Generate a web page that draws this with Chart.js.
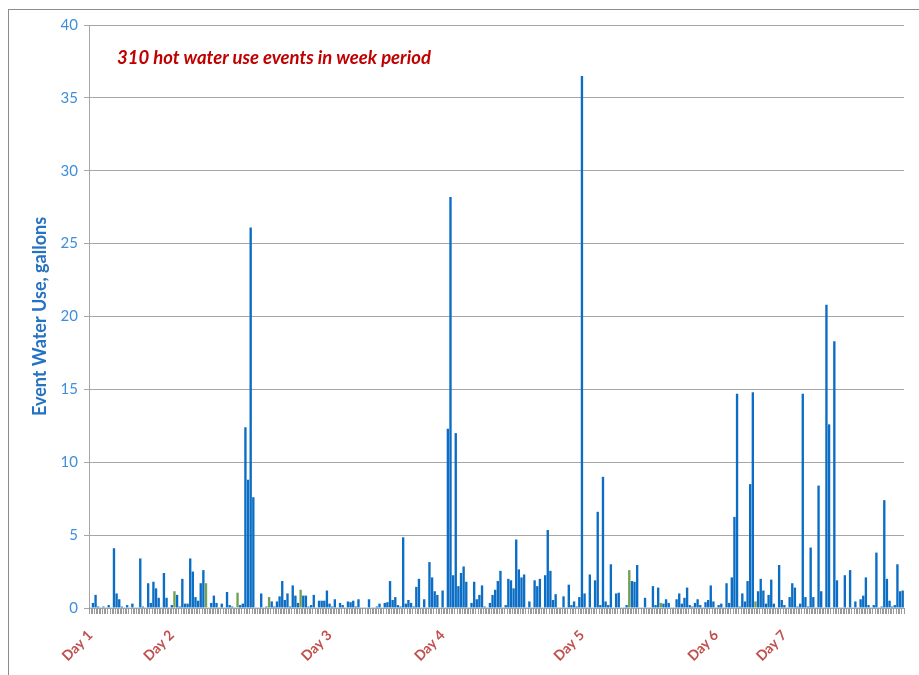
<!DOCTYPE html>
<html>
<head>
<meta charset="utf-8">
<script src="https://cdn.jsdelivr.net/npm/chart.js@4.4.1/dist/chart.umd.min.js"></script>
<style>
	body { margin: 0; background: #fff; }
	#frame { position: absolute; left: 8px; top: 9px; width: 930px; height: 690px; border-left: 1px solid #8c8c8c; border-top: 1px solid #8c8c8c; }
	#wrap { position: absolute; left: 9px; top: 10px; width: 910px; height: 665px; }
	#note { position: absolute; left: 117px; top: 46px; font: italic bold 18.5px Lato, sans-serif; color: #C00000; white-space: nowrap; }
</style>
</head>
<body>
<div id="frame"></div>
<div id="wrap"><canvas id="useChart" width="910" height="665"></canvas></div>
<div id="note">310 hot water use events in week period</div>
<script>
'use strict';

// gallons per event, in time order (310 events), split by stretch of the week
const eventsA = [0.05, 0.35, 0.9, 0.1, 0.05, 0.1, 0.05, 0.2, 0.05, 4.1, 1.0, 0.6, 0.1, 0.05, 0.2, 0.05, 0.3, 0.05, 0.05, 3.4,
	0.1, 0.05, 1.7, 0.35, 1.8, 1.35, 0.7, 0.05, 2.4, 0.7, 0.05, 0.2, 1.15, 0.9, 0.1, 2.0, 0.3, 0.3, 3.4, 2.5,
	0.75, 0.5, 1.7, 2.6, 1.7, 0.05, 0.35, 0.85, 0.35, 0.05, 0.3];
const eventsB = [0.05, 1.1, 0.2, 0.1, 0.05, 1.05, 0.2, 0.3, 12.4, 8.8, 26.1, 7.6, 0.05, 0.05, 1.0, 0.05, 0.1, 0.75, 0.45, 0.1,
	0.45, 0.8, 1.85, 0.55, 1.0, 0.1, 1.55, 0.85, 0.35, 1.25, 0.85, 0.85, 0.1, 0.2, 0.9, 0.05, 0.5, 0.5, 0.5, 1.2,
	0.3, 0.1, 0.6, 0.05, 0.35, 0.2, 0.05, 0.45, 0.4, 0.5, 0.1, 0.6];
const eventsC = [0.05, 0.05, 0.05, 0.6, 0.05, 0.05, 0.1, 0.3, 0.05, 0.35, 0.4, 1.85, 0.55, 0.75, 0.2, 0.1, 4.85, 0.3, 0.55, 0.35,
	0.1, 1.45, 2.0, 0.05, 0.6, 0.05, 3.15, 2.1, 1.15, 0.9, 0.05, 1.2, 0.05, 12.3, 28.2, 2.25, 12.0, 1.5, 2.4, 2.85,
	1.8, 0.05, 0.35, 1.8, 0.6, 0.9, 1.55, 0.1, 0.05, 0.35, 0.9];
const eventsD = [1.25, 1.85, 2.55, 0.05, 0.2, 2.0, 1.9, 1.35, 4.7, 2.65, 2.1, 2.3, 0.05, 0.45, 0.05, 1.9, 1.5, 2.0, 0.05, 2.25,
	5.35, 2.55, 0.55, 0.95, 0.05, 0.05, 0.8, 0.05, 1.6, 0.2, 0.45, 0.1, 0.75, 36.5, 1.0, 0.05, 2.3, 0.05, 1.9, 6.6,
	0.2, 9.0, 0.45, 0.2, 3.0, 0.05, 1.0, 1.05, 0.05, 0.05, 0.2, 2.6];
const eventsE = [1.85, 1.8, 2.95, 0.05, 0.05, 0.7, 0.05, 0.05, 1.5, 0.2, 1.4, 0.35, 0.3, 0.6, 0.35, 0.05, 0.05, 0.6, 1.0, 0.3,
	0.7, 1.4, 0.2, 0.1, 0.35, 0.6, 0.2, 0.05, 0.4, 0.55, 1.55, 0.45, 0.05, 0.2, 0.3, 0.05, 1.7, 0.35, 2.1, 6.25,
	14.7, 0.1, 1.0, 0.45, 1.85, 8.5, 14.8, 0.45, 1.15, 2.0, 1.2];
const eventsF = [0.3, 0.9, 1.95, 0.3, 0.05, 2.95, 0.55, 0.2, 0.05, 0.75, 1.7, 1.4, 0.1, 0.3, 14.7, 0.75, 0.1, 4.15, 0.75, 0.05,
	8.4, 1.15, 0.05, 20.8, 12.6, 0.05, 18.3, 1.9, 0.05, 0.05, 2.25, 0.05, 2.6, 0.05, 0.45, 0.05, 0.6, 0.85, 2.1, 0.2,
	0.05, 0.2, 3.8, 0.05, 0.1, 7.4, 2.0, 0.5, 0.1, 0.2, 3.0, 1.15, 1.2];

// events drawn in the second (green) colour
const greenEvents = [32, 44, 56, 68, 80, 205, 217, 253];

// x labels: the day names and the event index each one sits under
const dayNames = ['Day 1', 'Day 2', 'Day 3', 'Day 4', 'Day 5', 'Day 6', 'Day 7'];
const dayStarts = [0, 31, 91, 134, 187, 238, 264];

const yTicks = [0, 5, 10, 15, 20, 25, 30, 35, 40];

const events = [].concat(eventsA, eventsB, eventsC, eventsD, eventsE, eventsF);
const labels = events.map(function (v, i) {
	const d = dayStarts.indexOf(i);
	return d >= 0 ? dayNames[d] : '';
});

// little tick marks between every event, under the x axis
const tickComb = {
	id: 'tickComb',
	afterDraw: function (chart) {
		const x = chart.scales.x;
		const c = chart.ctx;
		const half = (x.getPixelForValue(1) - x.getPixelForValue(0)) / 2;
		c.save();
		c.strokeStyle = '#9A9A9A';
		c.lineWidth = 1;
		c.beginPath();
		for (let i = 0; i <= events.length; i++) {
			const px = Math.round(x.getPixelForValue(i) - half) + 0.5;
			c.moveTo(px, x.top);
			c.lineTo(px, x.top + 6);
		}
		c.stroke();
		c.restore();
	},
};

const createUseChart = function () {
	const ctx = document.getElementById('useChart');

	new Chart(ctx, {
		type: 'bar',
		data: {
			labels: labels,
			datasets: [
				{
					label: 'Event water use',
					data: events,
					backgroundColor: function (c) {
						return greenEvents.includes(c.dataIndex) ? '#72A055' : '#0B6EC4';
					},
					borderWidth: 0,
					categoryPercentage: 0.9,
					barPercentage: 1.0,
				},
			],
		},
		options: {
			responsive: false,
			animation: false,
			devicePixelRatio: 1,
			layout: {
				padding: { top: 15, right: 15, left: 0, bottom: 0 },
			},
			scales: {
				x: {
					afterFit: function (s) {
						s.height = 67;
						s.paddingLeft = 0;
						s.paddingRight = 0;
					},
					grid: {
						drawOnChartArea: false,
						tickLength: 6,
						color: '#9A9A9A',
					},
					border: { color: '#A6A6A6' },
					ticks: {
						autoSkip: false,
						maxRotation: 45,
						minRotation: 45,
						padding: 13,
						color: '#C0504D',
						font: { family: 'Lato', size: 14, weight: 'bold' },
					},
				},
				y: {
					min: 0,
					max: 40,
					afterFit: function (s) { s.width = 80; },
					afterBuildTicks: function (s) {
						s.ticks = yTicks.map(function (v) { return { value: v }; });
					},
					grid: {
						color: '#A6A6A6',
						tickLength: 5,
					},
					border: { color: '#A6A6A6' },
					ticks: {
						color: '#3F8EDB',
						padding: 6,
						font: { family: 'Lato', size: 15 },
					},
					title: {
						display: true,
						text: 'Event Water Use, gallons',
						color: '#2672C2',
						padding: { top: 20, bottom: 0 },
						font: { family: 'Lato', size: 18, weight: 'bold' },
					},
				},
			},
			plugins: {
				legend: { display: false },
				tooltip: { enabled: false },
			},
		},
		plugins: [tickComb],
	});
};

document.addEventListener('DOMContentLoaded', createUseChart());
</script>
</body>
</html>
